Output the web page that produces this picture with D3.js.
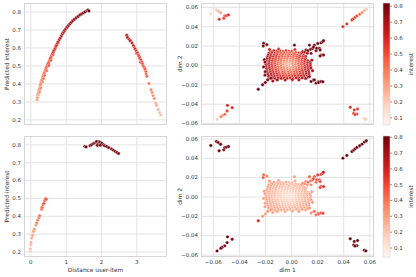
<!DOCTYPE html>
<html><head><meta charset="utf-8">
<script src="https://cdn.jsdelivr.net/npm/d3@7"></script>
<style>
body{margin:0;background:#fff}
svg{display:block}
text{font-family:"DejaVu Sans",sans-serif}
</style>
</head><body>
<svg id="c" width="416" height="277"></svg>
<script>
// ---------------- DATA ----------------
// Left column: distance user-item vs predicted interest
const topCurve = [[0.19,0.310],[0.20,0.322],[0.21,0.335],[0.23,0.340],[0.22,0.346],[0.24,0.355],[0.26,0.352],[0.25,0.368],[0.27,0.380],[0.29,0.375],[0.28,0.392],[0.30,0.400],[0.31,0.412],[0.34,0.410],[0.33,0.420],[0.35,0.430],[0.37,0.428],[0.36,0.442],[0.38,0.452],[0.40,0.445],[0.40,0.460],[0.42,0.470],[0.46,0.470],[0.44,0.478],[0.45,0.488],[0.47,0.496],[0.49,0.505],[0.52,0.500],[0.51,0.512],[0.53,0.522],[0.55,0.530],[0.58,0.530],[0.57,0.540],[0.59,0.548],[0.61,0.556],[0.64,0.560],[0.63,0.566],[0.65,0.574],[0.67,0.584],[0.70,0.594],[0.72,0.604],[0.74,0.612],[0.77,0.624],[0.79,0.632],[0.82,0.644],[0.85,0.654],[0.88,0.665],[0.91,0.676],[0.94,0.685],[0.97,0.694],[1.00,0.703],[1.04,0.712],[1.08,0.722],[1.12,0.731],[1.16,0.740],[1.20,0.748],[1.25,0.757],[1.30,0.765],[1.35,0.772],[1.40,0.780],[1.45,0.786],[1.50,0.792],[1.55,0.798],[1.60,0.804],[1.63,0.808],[1.66,0.803]];
const topFar = [[2.73,0.668],[2.75,0.655],[2.80,0.645],[2.83,0.637],[2.88,0.625],[2.92,0.610],[2.95,0.598],[2.97,0.591],[3.00,0.580],[3.01,0.568],[3.03,0.570],[3.06,0.558],[3.08,0.550],[3.10,0.540],[3.13,0.530],[3.12,0.518],[3.16,0.518],[3.18,0.508],[3.20,0.497],[3.23,0.488],[3.25,0.478],[3.27,0.465],[3.28,0.452],[3.30,0.440],[3.36,0.400],[3.42,0.365],[3.45,0.350],[3.48,0.332],[3.51,0.316],[3.55,0.290],[3.57,0.278],[3.62,0.255],[3.66,0.237],[3.69,0.224]];
const botNear = [[0.00,0.202],[0.00,0.215],[0.01,0.239],[0.02,0.250],[0.04,0.275],[0.06,0.290],[0.09,0.312],[0.11,0.325],[0.16,0.349],[0.18,0.360],[0.21,0.376],[0.24,0.390],[0.26,0.400],[0.32,0.437],[0.33,0.447],[0.36,0.462],[0.38,0.470],[0.41,0.485],[0.43,0.496],[0.45,0.492]];
const botFar = [[1.54,0.789],[1.58,0.786],[1.69,0.793],[1.73,0.798],[1.78,0.804],[1.82,0.808],[1.86,0.812],[1.88,0.816],[1.92,0.806],[1.95,0.815],[1.97,0.811],[2.00,0.800],[2.02,0.806],[2.07,0.798],[2.10,0.792],[2.16,0.789],[2.22,0.782],[2.30,0.774],[2.35,0.768],[2.40,0.761],[2.45,0.755],[2.50,0.749],[1.90,0.795],[1.98,0.795]];

// Right column: item embeddings [dim1, dim2, interest (top user), interest (bottom user)]
const items = [
[-0.0156,0.0142,.66,.31],[-0.0132,0.0148,.63,.30],[-0.0109,0.0141,.58,.29],[-0.0084,0.0146,.56,.28],[-0.0061,0.0140,.53,.27],[-0.0038,0.0147,.53,.27],[-0.0015,0.0143,.52,.26],[0.0007,0.0140,.52,.26],
[-0.0170,0.0120,.66,.31],[-0.0146,0.0127,.62,.30],[-0.0123,0.0122,.57,.28],[-0.0100,0.0128,.54,.27],[-0.0077,0.0121,.50,.25],[-0.0054,0.0126,.49,.25],[-0.0031,0.0120,.46,.24],[-0.0009,0.0125,.47,.24],[0.0014,0.0121,.48,.25],[0.0036,0.0128,.51,.26],[0.0060,0.0123,.53,.27],
[-0.0176,0.0101,.68,.30],[-0.0153,0.0107,.62,.29],[-0.0130,0.0102,.56,.27],[-0.0108,0.0108,.53,.26],[-0.0085,0.0100,.48,.24],[-0.0062,0.0106,.47,.23],[-0.0040,0.0101,.45,.22],[-0.0017,0.0107,.46,.23],[0.0005,0.0102,.45,.22],[0.0028,0.0108,.49,.24],[0.0050,0.0103,.50,.24],[0.0073,0.0109,.55,.26],[0.0095,0.0104,.58,.28],
[-0.0180,0.0081,.72,.30],[-0.0158,0.0087,.67,.28],[-0.0136,0.0082,.62,.26],[-0.0113,0.0088,.58,.25],[-0.0091,0.0080,.53,.23],[-0.0069,0.0086,.51,.22],[-0.0046,0.0081,.47,.20],[-0.0024,0.0087,.48,.21],[-0.0002,0.0082,.47,.20],[0.0020,0.0088,.50,.22],[0.0043,0.0083,.52,.22],[0.0066,0.0089,.57,.24],[0.0090,0.0084,.61,.26],[0.0112,0.0088,.66,.28],
[-0.0185,0.0062,.71,.30],[-0.0162,0.0068,.66,.28],[-0.0140,0.0061,.60,.25],[-0.0117,0.0067,.56,.24],[-0.0095,0.0060,.50,.21],[-0.0072,0.0066,.47,.20],[-0.0050,0.0061,.43,.19],[-0.0028,0.0067,.43,.19],[-0.0005,0.0062,.42,.18],[0.0017,0.0068,.45,.20],[0.0040,0.0063,.48,.21],[0.0063,0.0069,.53,.23],[0.0087,0.0064,.57,.24],[0.0110,0.0068,.63,.27],
[-0.0188,0.0041,.70,.29],[-0.0165,0.0047,.65,.27],[-0.0143,0.0042,.59,.25],[-0.0120,0.0048,.54,.23],[-0.0098,0.0040,.48,.21],[-0.0075,0.0046,.44,.19],[-0.0053,0.0041,.39,.17],[-0.0030,0.0047,.37,.17],[-0.0008,0.0042,.36,.16],[0.0015,0.0048,.40,.18],[0.0038,0.0043,.44,.19],[0.0060,0.0049,.49,.21],[0.0083,0.0044,.54,.23],[0.0106,0.0049,.60,.26],[0.0128,0.0043,.65,.27],
[-0.0190,0.0021,.69,.29],[-0.0168,0.0027,.64,.27],[-0.0145,0.0022,.58,.25],[-0.0123,0.0028,.53,.23],[-0.0100,0.0020,.46,.20],[-0.0078,0.0026,.42,.18],[-0.0055,0.0021,.36,.16],[-0.0033,0.0027,.33,.15],[-0.0010,0.0022,.31,.14],[0.0012,0.0028,.36,.16],[0.0035,0.0023,.40,.18],[0.0058,0.0029,.47,.20],[0.0081,0.0024,.52,.22],[0.0104,0.0029,.58,.25],[0.0127,0.0023,.64,.27],[0.0146,0.0028,.69,.29],
[-0.0192,0.0002,.70,.29],[-0.0170,0.0008,.64,.27],[-0.0147,0.0003,.58,.25],[-0.0125,0.0009,.52,.22],[-0.0102,0.0001,.46,.20],[-0.0080,0.0007,.41,.18],[-0.0057,0.0002,.35,.16],[-0.0035,0.0008,.29,.14],[-0.0012,0.0003,.27,.13],[0.0010,0.0009,.33,.15],[0.0033,0.0004,.39,.17],[0.0056,0.0009,.45,.20],[0.0079,0.0003,.51,.22],[0.0102,0.0008,.57,.24],[0.0125,0.0002,.63,.27],[0.0148,0.0007,.69,.29],
[-0.0190,-0.0019,.69,.29],[-0.0167,-0.0013,.63,.27],[-0.0145,-0.0018,.58,.25],[-0.0122,-0.0012,.52,.22],[-0.0100,-0.0020,.46,.20],[-0.0077,-0.0014,.40,.18],[-0.0055,-0.0019,.35,.16],[-0.0032,-0.0013,.30,.14],[-0.0010,-0.0018,.30,.14],[0.0013,-0.0012,.34,.15],[0.0036,-0.0017,.40,.18],[0.0059,-0.0012,.46,.20],[0.0082,-0.0018,.52,.22],[0.0105,-0.0012,.58,.25],[0.0128,-0.0017,.64,.27],[0.0149,-0.0013,.69,.29],
[-0.0187,-0.0039,.69,.29],[-0.0164,-0.0033,.63,.27],[-0.0142,-0.0038,.58,.25],[-0.0119,-0.0032,.52,.22],[-0.0097,-0.0040,.48,.21],[-0.0074,-0.0034,.42,.18],[-0.0052,-0.0039,.38,.17],[-0.0029,-0.0033,.34,.15],[-0.0007,-0.0038,.35,.16],[0.0016,-0.0032,.37,.17],[0.0039,-0.0037,.43,.19],[0.0062,-0.0032,.48,.21],[0.0085,-0.0038,.54,.23],[0.0108,-0.0032,.59,.25],[0.0131,-0.0037,.65,.28],[0.0152,-0.0033,.70,.30],
[-0.0184,-0.0059,.70,.29],[-0.0161,-0.0053,.64,.27],[-0.0139,-0.0058,.59,.25],[-0.0116,-0.0052,.53,.23],[-0.0094,-0.0060,.50,.21],[-0.0071,-0.0054,.44,.19],[-0.0049,-0.0059,.42,.19],[-0.0026,-0.0053,.39,.17],[-0.0004,-0.0058,.41,.18],[0.0019,-0.0052,.42,.18],[0.0042,-0.0057,.47,.20],[0.0065,-0.0052,.51,.22],[0.0088,-0.0058,.57,.24],[0.0111,-0.0052,.62,.26],[0.0133,-0.0057,.67,.28],
[-0.0180,-0.0079,.71,.30],[-0.0157,-0.0073,.65,.28],[-0.0135,-0.0078,.61,.26],[-0.0112,-0.0072,.55,.24],[-0.0090,-0.0080,.53,.23],[-0.0067,-0.0074,.48,.21],[-0.0045,-0.0079,.47,.20],[-0.0022,-0.0073,.44,.19],[0.0000,-0.0078,.46,.20],[0.0023,-0.0072,.47,.20],[0.0046,-0.0077,.51,.22],[0.0069,-0.0072,.55,.23],[0.0092,-0.0078,.60,.26],[0.0115,-0.0072,.65,.27],[0.0136,-0.0077,.70,.29],
[-0.0176,-0.0099,.73,.30],[-0.0153,-0.0093,.67,.28],[-0.0131,-0.0098,.63,.27],[-0.0108,-0.0092,.58,.25],[-0.0086,-0.0100,.56,.24],[-0.0063,-0.0094,.52,.22],[-0.0041,-0.0099,.51,.22],[-0.0018,-0.0093,.49,.21],[0.0004,-0.0098,.51,.22],[0.0027,-0.0092,.52,.22],[0.0050,-0.0097,.56,.24],[0.0073,-0.0092,.59,.25],[0.0096,-0.0098,.65,.27],[0.0119,-0.0092,.68,.29],[0.0138,-0.0099,.73,.30],
[-0.0171,-0.0119,.75,.31],[-0.0148,-0.0113,.69,.29],[-0.0126,-0.0118,.66,.28],[-0.0103,-0.0112,.61,.26],[-0.0081,-0.0120,.60,.25],[-0.0058,-0.0114,.56,.24],[-0.0036,-0.0119,.56,.24],[-0.0013,-0.0113,.54,.23],[0.0009,-0.0118,.56,.24],[0.0032,-0.0112,.57,.24],[0.0055,-0.0117,.61,.26],[0.0078,-0.0112,.64,.27],[0.0101,-0.0118,.69,.29],[0.0123,-0.0113,.72,.30],
[-0.0165,-0.0138,.77,.32],[-0.0142,-0.0133,.72,.30],[-0.0120,-0.0139,.69,.29],[-0.0097,-0.0134,.65,.28],[-0.0074,-0.0139,.64,.27],[-0.0052,-0.0133,.61,.26],[-0.0029,-0.0138,.61,.26],[-0.0006,-0.0134,.60,.25],[0.0017,-0.0139,.62,.26],[0.0040,-0.0133,.63,.27],[0.0063,-0.0138,.67,.28],[0.0086,-0.0133,.69,.29],[0.0110,-0.0140,.75,.31],
[-0.0105,-0.0154,.71,.30],[-0.0045,-0.0156,.66,.28],[0.0010,-0.0152,.65,.28],[0.0060,-0.0155,.70,.30],
[-0.0165,0.0160,.60,.30],[-0.0095,0.0165,.55,.28],[0.0030,0.0160,.55,.27],[-0.0210,-0.0020,.78,.30],[-0.0200,-0.0105,.76,.30],[0.0160,0.0050,.72,.30],[0.0165,-0.0060,.72,.30],[-0.0140,-0.0165,.72,.30],
[0.0082,0.0126,.67,.32],[0.0090,0.0137,.72,.34],[0.0105,0.0134,.73,.35],[0.0115,0.0154,.76,.38],[0.0125,0.0122,.74,.33],[0.0130,0.0148,.78,.40],[0.0141,0.0205,.80,.45],[0.0154,0.0120,.76,.35],[0.0150,0.0162,.80,.42],[0.0166,0.0171,.81,.45],[0.0179,0.0205,.81,.50],[0.0172,0.0185,.80,.47],[0.0192,0.0147,.79,.42],[0.0197,0.0173,.80,.48],[0.0205,0.0222,.81,.55],[0.0218,0.0171,.80,.50],[0.0223,0.0155,.79,.48],[0.0230,0.0229,.81,.58],[0.0243,0.0240,.81,.60],[0.0249,0.0251,.82,.62],[0.0230,0.0103,.78,.52],[0.0249,0.0103,.80,.55],[0.0223,0.0093,.77,.50],
[0.0115,-0.0137,.74,.30],[0.0130,-0.0125,.74,.32],[0.0141,-0.0120,.75,.33],[0.0154,-0.0171,.80,.35],[0.0172,-0.0155,.80,.38],[0.0179,-0.0154,.80,.40],[0.0192,-0.0188,.81,.42],[0.0210,-0.0173,.81,.45],[0.0212,-0.0181,.81,.46],[0.0230,-0.0171,.81,.48],[0.0244,-0.0173,.82,.50],
[-0.0154,-0.0137,.75,.31],[-0.0179,-0.0154,.79,.32],[-0.0197,-0.0181,.80,.30],[-0.0218,-0.0205,.81,.32],[-0.0251,-0.0251,.82,.60],
[-0.0210,0.0222,.80,.45],[-0.0213,0.0195,.79,.47],[-0.0185,0.0210,.78,.35],[0.0026,0.0205,.80,.30],
[-0.0205,0.0055,.78,.30],[-0.0200,0.0030,.76,.30],[-0.0198,-0.0070,.77,.30],
[-0.0615,0.0527,.15,.80],[-0.0572,0.0569,.22,.80],[-0.0559,0.0558,.25,.78],[-0.0540,0.0540,.30,.80],[-0.0551,0.0472,.56,.79],[-0.0515,0.0483,.55,.80],[-0.0508,0.0507,.52,.78],[-0.0495,0.0510,.55,.80],[-0.0480,0.0517,.58,.79],
[-0.0487,-0.0417,.62,.80],[-0.0451,-0.0441,.60,.79],[-0.0490,-0.0476,.55,.80],[-0.0508,-0.0510,.46,.78],[-0.0528,-0.0524,.40,.80],[-0.0538,-0.0535,.36,.79],[-0.0567,-0.0562,.20,.80],
[0.0398,0.0396,.58,.81],[0.0428,0.0424,.58,.80],[0.0467,0.0465,.58,.79],[0.0480,0.0479,.56,.80],[0.0492,0.0493,.52,.78],[0.0505,0.0507,.48,.80],[0.0526,0.0524,.42,.79],[0.0544,0.0541,.35,.80],[0.0562,0.0562,.28,.78],[0.0577,0.0576,.20,.80],
[0.0454,-0.0437,.58,.80],[0.0485,-0.0465,.55,.79],[0.0510,-0.0455,.52,.80],[0.0480,-0.0500,.55,.78],[0.0505,-0.0507,.50,.80],[0.0490,-0.0512,.52,.79],[0.0562,-0.0555,.22,.80],[0.0574,-0.0562,.20,.79]
];

// Ticks and labels
const distTicks = [0, 1, 2, 3];
const interestTicks = [0.2, 0.3, 0.4, 0.5, 0.6, 0.7, 0.8];
const dimTicks = [-0.06, -0.04, -0.02, 0.00, 0.02, 0.04, 0.06];
const dimTickLabels = ["\u22120.06", "\u22120.04", "\u22120.02", "0.00", "0.02", "0.04", "0.06"];
const cbTicks = [0.1, 0.2, 0.3, 0.4, 0.5, 0.6, 0.7, 0.8];
const normTop = [0.052, 0.817];
const normBot = [0.040, 0.805];

// ---------------- LAYOUT ----------------
const svg = d3.select("#c");
const GRID = "#e3e3e3", SPINE = "#d6d6d6", TXT = "#333", FS = 5.5, LFS = 5.9;
const L = {x0: 24, x1: 167}, R = {x0: 201, x1: 374};
const T = {y0: 3, y1: 125}, B = {y0: 136, y1: 257};

const xDist = d3.scaleLinear().domain([-0.18, 3.87]).range([L.x0, L.x1]);
const xDim = d3.scaleLinear().domain([-0.069, 0.0636]).range([R.x0, R.x1]);

function panel(xs, ys, xTicks, yTicks, xLab, showX, xFmt, yFmt) {
  const g = svg.append("g");
  const [x0, x1] = xs.range(), [y1, y0] = ys.range();
  const gx = g.append("g").attr("transform", `translate(0,${y1})`)
    .call(d3.axisBottom(xs).tickValues(xTicks).tickSize(-(y1 - y0)).tickFormat(""));
  const gy = g.append("g").attr("transform", `translate(${x0},0)`)
    .call(d3.axisLeft(ys).tickValues(yTicks).tickSize(-(x1 - x0)).tickFormat(""));
  [gx, gy].forEach(a => { a.select(".domain").remove(); a.selectAll("line").attr("stroke", GRID).attr("stroke-width", 1); });
  g.append("rect").attr("x", x0 + 0.5).attr("y", y0 + 0.5).attr("width", x1 - x0 - 1).attr("height", y1 - y0 - 1)
    .attr("fill", "none").attr("stroke", SPINE).attr("stroke-width", 1);
  const ly = g.append("g").attr("transform", `translate(${x0},0)`)
    .call(d3.axisLeft(ys).tickValues(yTicks).tickSize(0).tickPadding(3).tickFormat(yFmt));
  ly.select(".domain").remove();
  ly.selectAll("text").attr("font-size", FS).attr("fill", TXT).attr("font-family", "DejaVu Sans");
  if (showX) {
    const lx = g.append("g").attr("transform", `translate(0,${y1})`)
      .call(d3.axisBottom(xs).tickValues(xTicks).tickSize(0).tickPadding(3.5).tickFormat(xFmt));
    lx.select(".domain").remove();
    lx.selectAll("text").attr("font-size", FS).attr("fill", TXT).attr("font-family", "DejaVu Sans");
    g.append("text").attr("x", (x0 + x1) / 2).attr("y", 271.5).attr("text-anchor", "middle")
      .attr("font-size", LFS).attr("fill", TXT).text(xLab);
  }
  return g;
}

function dots(g, data, xs, ys, color) {
  g.append("g").selectAll("circle").data(data).join("circle")
    .attr("cx", d => xs(d[0])).attr("cy", d => ys(d[1])).attr("r", 1.7)
    .attr("fill", d => color(d[2])).attr("stroke", "#fff").attr("stroke-width", 0.4);
}

function colorbar(y0, y1, norm, id) {
  const cs = d3.scaleLinear().domain(norm).range([y1, y0]);
  const grad = svg.append("defs").append("linearGradient").attr("id", id)
    .attr("x1", 0).attr("y1", 1).attr("x2", 0).attr("y2", 0);
  d3.range(0, 1.0001, 0.05).forEach(t => grad.append("stop").attr("offset", t).attr("stop-color", d3.interpolateReds(t)));
  svg.append("rect").attr("x", 383).attr("y", y0).attr("width", 7).attr("height", y1 - y0).attr("fill", `url(#${id})`);
  svg.append("rect").attr("x", 383).attr("y", y0).attr("width", 7).attr("height", y1 - y0)
    .attr("fill", "none").attr("stroke", "#d6d6d6").attr("stroke-width", 0.6);
  const a = svg.append("g").attr("transform", "translate(390,0)")
    .call(d3.axisRight(cs).tickValues(cbTicks).tickSize(2).tickPadding(2).tickFormat(d3.format(".1f")));
  a.select(".domain").remove();
  a.selectAll("line").attr("stroke", "#555").attr("stroke-width", 0.6);
  a.selectAll("text").attr("font-size", FS).attr("fill", TXT).attr("font-family", "DejaVu Sans");
  svg.append("text").attr("transform", `translate(412.5,${(y0 + y1) / 2}) rotate(-90)`)
    .attr("text-anchor", "middle").attr("font-size", LFS).attr("fill", TXT).text("interest");
}

const f1 = d3.format(".1f");
const fd = d => String(d);
const fdim = d => dimTickLabels[dimTicks.indexOf(d)];

const colTop = v => d3.interpolateReds((v - normTop[0]) / (normTop[1] - normTop[0]));
const colBot = v => d3.interpolateReds((v - normBot[0]) / (normBot[1] - normBot[0]));

const yIntT = d3.scaleLinear().domain([0.169, 0.847]).range([T.y1, T.y0]);
const gTL = panel(xDist, yIntT, distTicks, interestTicks, "", false, fd, f1);
dots(gTL, topCurve.concat(topFar).map(d => [d[0], d[1], d[1]]), xDist, yIntT, colTop);

const yIntB = d3.scaleLinear().domain([0.169, 0.847]).range([B.y1, B.y0]);
const gBL = panel(xDist, yIntB, distTicks, interestTicks, "Distance user-item", true, fd, f1);
dots(gBL, botNear.concat(botFar).map(d => [d[0], d[1], d[1]]), xDist, yIntB, colBot);

const yDimT = d3.scaleLinear().domain([-0.062, 0.064]).range([T.y1, T.y0]);
const gTR = panel(xDim, yDimT, dimTicks, dimTicks, "", false, fdim, fdim);
dots(gTR, items.map(d => [d[0], d[1], d[2]]), xDim, yDimT, colTop);

const yDimB = d3.scaleLinear().domain([-0.0625, 0.0625]).range([B.y1, B.y0]);
const gBR = panel(xDim, yDimB, dimTicks, dimTicks, "dim 1", true, fdim, fdim);
dots(gBR, items.map(d => [d[0], d[1], d[3]]), xDim, yDimB, colBot);

[[8.5, (T.y0 + T.y1) / 2, "Predicted interest"], [8.5, (B.y0 + B.y1) / 2, "Predicted interest"],
 [181.5, (T.y0 + T.y1) / 2, "dim 2"], [181.5, (B.y0 + B.y1) / 2, "dim 2"]].forEach(([x, y, t]) =>
  svg.append("text").attr("transform", `translate(${x},${y}) rotate(-90)`).attr("text-anchor", "middle")
    .attr("font-size", LFS).attr("fill", TXT).text(t));

colorbar(T.y0, T.y1, normTop, "gT");
colorbar(B.y0, B.y1, normBot, "gB");
</script>
</body></html>
